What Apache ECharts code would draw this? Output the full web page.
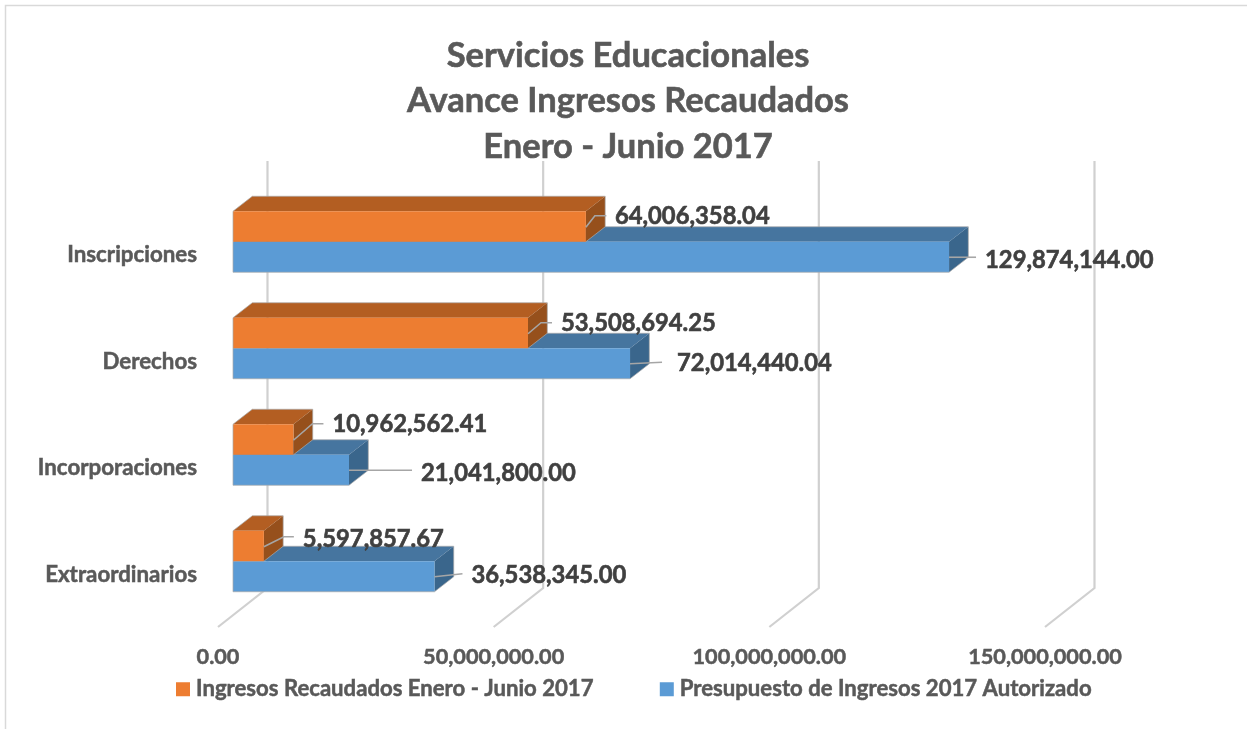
<!DOCTYPE html>
<html>
<head>
<meta charset="utf-8">
<style>html,body{margin:0;padding:0;background:#fff}#c{width:1247px;height:729px}</style>
<script src="https://cdn.jsdelivr.net/npm/echarts@6/dist/echarts.min.js"></script>
</head>
<body>
<div id="c"></div>
<script>
const categories = ['Inscripciones', 'Derechos', 'Incorporaciones', 'Extraordinarios'];
const ingresos = [64006358.04, 53508694.25, 10962562.41, 5597857.67];
const presupuesto = [129874144.00, 72014440.04, 21041800.00, 36538345.00];
const xTicks = [0, 50000000, 100000000, 150000000];
const titleLines = ['Servicios Educacionales', 'Avance Ingresos Recaudados', 'Enero - Junio 2017'];
const ingresosName = 'Ingresos Recaudados Enero - Junio 2017';
const presupuestoName = 'Presupuesto de Ingresos 2017 Autorizado';

const FONT = 'Lato, Carlito, sans-serif';
const barShiftX = 15, barShiftY = -13.5, barH = 30.5, depthX = 19.3, depthY = 15;
// leader line layout per bar, kept apart from the values: [end dx, end dy, elbow dx, text dx, text dy]
const leadOrange = [[20.5,-11.5,9,29,-10.5],[24,-11,13,33,-10.5],[30,-16.5,19,39,-16],[30,-10,20,39,-7]];
const leadBlue = [[27,0,27,36,3],[32,-1.5,32,47,0],[63,0,63,72,3],[28,-3,28,37,-1]];
const fmt = v => v.toLocaleString('en-US', {minimumFractionDigits: 2, maximumFractionDigits: 2});

function barItem(colors, lead, upper) {
  return function (params, api) {
    const idx = api.value(1), val = api.value(0);
    const p0 = api.coord([0, idx]), p1 = api.coord([val, idx]);
    const x0 = p0[0] + barShiftX, x1 = p1[0] + barShiftX, mid = p0[1] + barShiftY;
    const yt = upper ? mid - barH : mid, yb = yt + barH;
    const l = lead[params.dataIndex];
    const ly = upper ? yb - 14.5 : yt + 15.5;
    const face = (pts, fill) => ({type: 'polygon', shape: {points: pts}, style: {fill: fill}});
    const outline = [[x0,yb],[x0,yt],[x0+depthX,yt-depthY],[x1+depthX,yt-depthY],[x1+depthX,yb-depthY],[x1,yb]];
    if (!upper) outline.push([x0,yb]);
    return {type: 'group', children: [
      face([[x0,yt],[x1,yt],[x1+depthX,yt-depthY],[x0+depthX,yt-depthY]], colors[1]),
      face([[x1,yt],[x1+depthX,yt-depthY],[x1+depthX,yb-depthY],[x1,yb]], colors[2]),
      face([[x0,yt],[x1,yt],[x1,yb],[x0,yb]], colors[0]),
      {type: 'polyline', shape: {points: outline}, style: {fill: 'none', stroke: 'rgba(170,170,170,0.7)', lineWidth: 1}},
      {type: 'polyline', shape: {points: [[x1,ly],[x1+l[2],ly+l[1]],[x1+l[0],ly+l[1]]]},
        style: {fill: 'none', stroke: '#a6a6a6', lineWidth: 1.6}},
      {type: 'text', style: {x: x1 + l[3], y: ly + l[4], text: fmt(val), fill: '#404040', stroke: '#404040', lineWidth: 0.6,
        font: 'bold 23.8px ' + FONT, textAlign: 'left', textVerticalAlign: 'middle'}}
    ]};
  };
}

function wallItem(params, api) {
  const cs = params.coordSys;
  const x = api.coord([api.value(0), 0])[0], yb = cs.y + cs.height - 1;
  return {type: 'polyline', shape: {points: [[x,yb],[x+49.5,yb-39],[x+49.5,cs.y-41]]},
    style: {fill: 'none', stroke: '#d0d0d0', lineWidth: 2.2}};
}

const chart = echarts.init(document.getElementById('c'), null, {renderer: 'canvas'});
chart.setOption({
  animation: false,
  backgroundColor: '#ffffff',
  title: {
    text: titleLines.join('\n'), left: 623, top: 28, textAlign: 'center',
    textStyle: {fontFamily: FONT, fontWeight: 'bold', fontSize: 34.5, lineHeight: 45.5, color: '#595959', textBorderColor: '#595959', textBorderWidth: 0.6}
  },
  legend: {
    left: 171, top: 673, itemWidth: 14, itemHeight: 14, itemGap: 66, icon: 'rect',
    data: [ingresosName, presupuestoName],
    textStyle: {fontFamily: FONT, fontWeight: 'bold', fontSize: 22.15, color: '#595959', padding: [0,0,0,1], textBorderColor: '#595959', textBorderWidth: 0.5}
  },
  grid: {left: 218, top: 202, width: 827, height: 426},
  xAxis: {
    type: 'value', position: 'bottom', min: xTicks[0], max: xTicks[3], interval: xTicks[1],
    axisLine: {show: false}, axisTick: {show: false}, splitLine: {show: false},
    axisLabel: {margin: 18, formatter: v => fmt(v), color: '#595959', fontFamily: FONT, fontWeight: 'bold', fontSize: 21.7, hideOverlap: false, textBorderColor: '#595959', textBorderWidth: 0.5}
  },
  yAxis: {
    type: 'category', inverse: true, data: categories,
    axisLine: {show: false}, axisTick: {show: false}, splitLine: {show: false},
    axisLabel: {margin: 21, color: '#595959', fontFamily: FONT, fontWeight: 'bold', fontSize: 22.3, padding: [2,0,0,0], textBorderColor: '#595959', textBorderWidth: 0.5}
  },
  graphic: [
    {type: 'polyline', z: -1, shape: {points: [[5.5,740],[5.5,5.5],[1260,5.5]]}, style: {fill: 'none', stroke: '#d9d9d9', lineWidth: 1.5}}
  ],
  series: [
    {type: 'custom', z: 1, silent: true, renderItem: wallItem, data: xTicks.map(t => [t, 0]), encode: {x: 0, y: 1}},
    {type: 'custom', name: presupuestoName, z: 2, renderItem: barItem(['#5B9BD5','#46759F','#3A668C'], leadBlue, false),
      itemStyle: {color: '#5B9BD5'}, encode: {x: 0, y: 1}, data: presupuesto.map((v, i) => [v, i])},
    {type: 'custom', name: ingresosName, z: 3, renderItem: barItem(['#ED7D31','#B35E22','#96501C'], leadOrange, true),
      itemStyle: {color: '#ED7D31'}, encode: {x: 0, y: 1}, data: ingresos.map((v, i) => [v, i])}
  ]
});
</script>
</body>
</html>
